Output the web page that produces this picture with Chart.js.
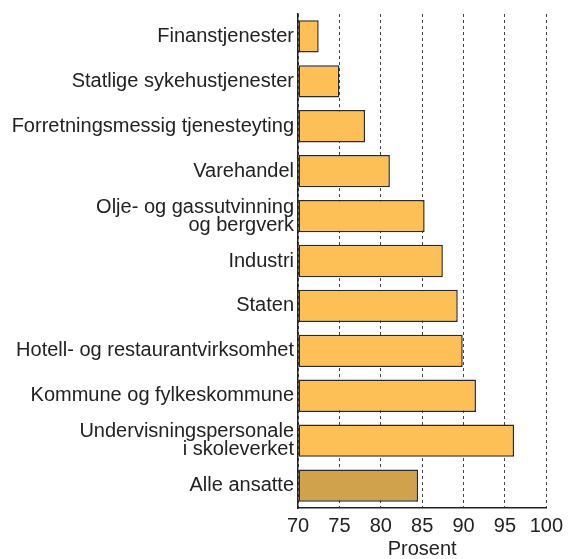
<!DOCTYPE html>
<html>
<head>
<meta charset="utf-8">
<script src="https://cdn.jsdelivr.net/npm/chart.js@4"></script>
<style>
  body { margin: 0; background: #fff; }
  #wrap { width: 571px; height: 559px; }
</style>
</head>
<body>
<div id="wrap"><canvas id="sickChart"></canvas></div>
<script>
const categories = [
    'Finanstjenester',
    'Statlige sykehustjenester',
    'Forretningsmessig tjenesteyting',
    'Varehandel',
    ['Olje- og gassutvinning', 'og bergverk'],
    'Industri',
    'Staten',
    'Hotell- og restaurantvirksomhet',
    'Kommune og fylkeskommune',
    ['Undervisningspersonale', 'i skoleverket'],
    'Alle ansatte'
];
const values = [72.5, 75.0, 78.1, 81.1, 85.3, 87.5, 89.3, 89.9, 91.5, 96.1, 84.5];
const xTicks = [70, 75, 80, 85, 90, 95, 100];

document.addEventListener('DOMContentLoaded', () => {
    const ctx = document.getElementById('sickChart').getContext('2d');
    const lastIdx = values.length - 1;
    const fam = 'Liberation Sans, Arial, sans-serif';
    new Chart(ctx, {
        type: 'bar',
        data: {
            labels: categories,
            datasets: [{
                data: values,
                base: xTicks[0],
                backgroundColor: (c) => c.dataIndex === lastIdx ? '#cfa24b' : '#fdc057', // totalen mørkere
                borderColor: '#2a2a2a',
                borderWidth: 1.5,
                borderSkipped: false,
                categoryPercentage: 0.72,
                barPercentage: 1
            }]
        },
        options: {
            indexAxis: 'y',
            responsive: true,
            maintainAspectRatio: false,
            animation: false,
            layout: {
                padding: { top: 14, right: 2, left: 0, bottom: 0 }
            },
            plugins: {
                legend: { display: false },
                tooltip: { enabled: false }
            },
            scales: {
                x: {
                    min: xTicks[0],
                    max: xTicks[xTicks.length - 1],
                    afterBuildTicks: (axis) => {
                        axis.ticks = xTicks.map(v => ({ value: v }));
                    },
                    grid: {
                        color: '#444',
                        lineWidth: 1,
                        drawTicks: false
                    },
                    border: {
                        display: true,
                        color: '#222',
                        width: 1.5,
                        dash: [3, 3]
                    },
                    ticks: {
                        color: '#222',
                        padding: 8,
                        maxRotation: 0,
                        font: { family: fam, size: 20, lineHeight: 1 }
                    },
                    title: {
                        display: true,
                        text: 'Prosent',
                        color: '#222',
                        padding: { top: -5, bottom: 0 },
                        font: { family: fam, size: 20, lineHeight: 1 }
                    }
                },
                y: {
                    afterFit: (axis) => { axis.width = 298; }, // plass til lange etiketter
                    grid: { display: false, drawTicks: false },
                    border: {
                        display: true,
                        color: '#222',
                        width: 1.5
                    },
                    ticks: {
                        color: '#222',
                        padding: 4,
                        font: { family: fam, size: 20, lineHeight: 0.9 }
                    }
                }
            }
        }
    });
});
</script>
</body>
</html>
